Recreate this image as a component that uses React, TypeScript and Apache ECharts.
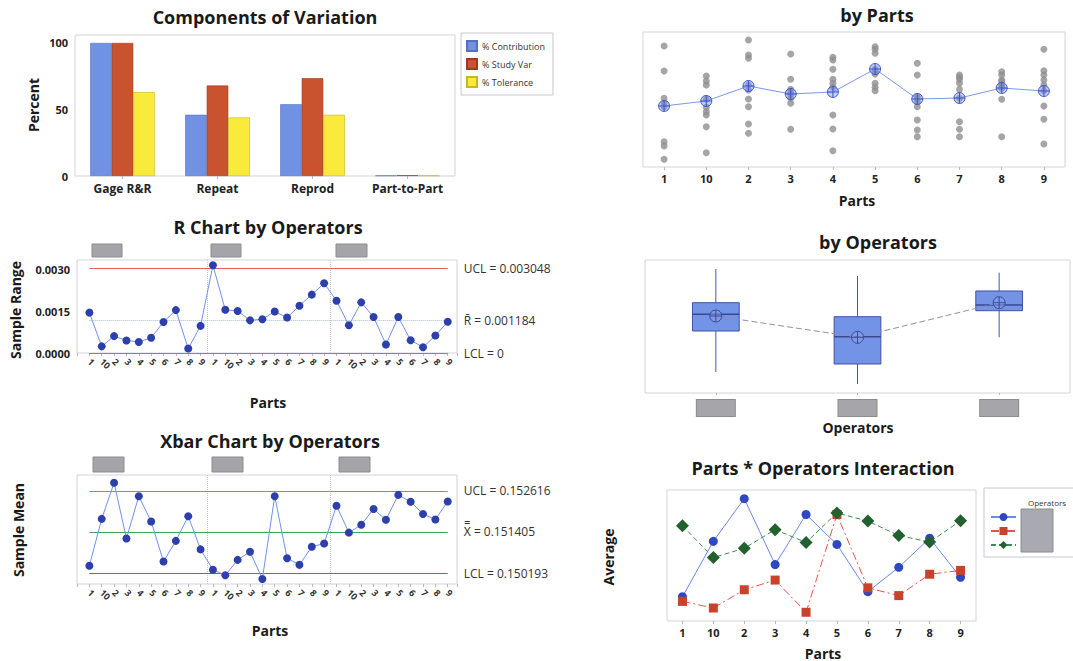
import React, { useEffect, useRef } from 'react';
import * as echarts from 'echarts';

const FONT = '"Open Sans", "Noto Sans", sans-serif';

// ---------- data ----------
const compCategories = ['Gage R&R', 'Repeat', 'Reprod', 'Part-to-Part'];
const pctContribution = [100, 46, 54, 0.4];
const pctStudyVar = [100, 68, 73.5, 0.6];
const pctTolerance = [63, 44, 46, 0.4];

const partOrder = ['1', '10', '2', '3', '4', '5', '6', '7', '8', '9'];
const operators = ['Operator 1', 'Operator 2', 'Operator 3'];

const rOp1 = [0.00146, 0.00024, 0.00061, 0.00045, 0.0004, 0.00055, 0.00112, 0.00155, 0.00016, 0.00098];
const rOp2 = [0.00317, 0.00156, 0.00152, 0.00118, 0.00122, 0.0015, 0.00128, 0.00171, 0.00211, 0.00252];
const rOp3 = [0.00189, 0.001, 0.00183, 0.0013, 0.00031, 0.0013, 0.00046, 0.00021, 0.00063, 0.00113];
const rLimits = { ucl: 0.003048, center: 0.001184, lcl: 0 };

const xbarOp1 = [0.150406, 0.151793, 0.152859, 0.151211, 0.152462, 0.151715, 0.150532, 0.151143, 0.15187, 0.150891];
const xbarOp2 = [0.15029, 0.150125, 0.150581, 0.150823, 0.150018, 0.152462, 0.150629, 0.150435, 0.150969, 0.151065];
const xbarOp3 = [0.152181, 0.151386, 0.151618, 0.152084, 0.151764, 0.152501, 0.152297, 0.151938, 0.151774, 0.152307];
const xbarLimits = { ucl: 0.152616, center: 0.151405, lcl: 0.150193 };

const dotsByPart = [
  [0.153071, 0.152179, 0.151204, 0.151025, 0.150904, 0.149654, 0.1495, 0.149025],
  [0.152, 0.151821, 0.151679, 0.151168, 0.150882, 0.150725, 0.150607, 0.150189, 0.149261],
  [0.153286, 0.15275, 0.152632, 0.151679, 0.1515, 0.151179, 0.150904, 0.150286, 0.149954],
  [0.152786, 0.151882, 0.151525, 0.151404, 0.151346, 0.151204, 0.151025, 0.150096],
  [0.152667, 0.152571, 0.152239, 0.151882, 0.151739, 0.151596, 0.150607, 0.150107, 0.149332],
  [0.153046, 0.152954, 0.152811, 0.152239, 0.152154, 0.152071, 0.151739, 0.151596, 0.151475],
  [0.152454, 0.152036, 0.151261, 0.151204, 0.151082, 0.150904, 0.150429, 0.150071, 0.149832],
  [0.152036, 0.151954, 0.151882, 0.151739, 0.151525, 0.151204, 0.150368, 0.150096, 0.149832],
  [0.152154, 0.152036, 0.151857, 0.151796, 0.151679, 0.151618, 0.151561, 0.151168, 0.149832],
  [0.152954, 0.152189, 0.152036, 0.151857, 0.151679, 0.151475, 0.150929, 0.150454, 0.149571],
];
const partMeans = [0.150929, 0.151107, 0.151643, 0.151357, 0.151429, 0.15225, 0.151179, 0.151214, 0.151571, 0.151464];

// [low whisker, Q1, median, Q3, high whisker]
const opBox1 = [0.149541, 0.150988, 0.151578, 0.151987, 0.153176];
const opBox2 = [0.149118, 0.149824, 0.150787, 0.151493, 0.152929];
const opBox3 = [0.150766, 0.151705, 0.151906, 0.1524, 0.153046];
const opMeans = [0.151518, 0.150766, 0.151987];

// ---------- helpers ----------
const MEAN_SYMBOL = 'path://M10,0A10,10,0,1,1,9.99,0ZM10,0L10,20M0,10L20,10';

const partLabel = (v: number) => {
  const i = Math.round(v);
  if (Math.abs(v - i) > 1e-6 || i < 1 || i > 30) return '';
  return partOrder[(i - 1) % 10];
};
const stepLabel = (step: number, digits: number) => (v: number) => {
  const k = Math.round(v / step);
  return Math.abs(v - k * step) < step * 1e-6 ? v.toFixed(digits) : '';
};

function txt(x: number, y: number, text: string, font: string, rotation = 0, align = 'center', fill = '#1a1a1a') {
  return {
    type: 'text', x, y, rotation, silent: true,
    style: { text, font, fill, textAlign: align, align, textVerticalAlign: 'middle', verticalAlign: 'middle' },
  };
}
function box(x: number, y: number, w: number, h: number, fill = '#a5a5a9', stroke = '#8c8c90') {
  return { type: 'rect', silent: true, shape: { x, y, width: w, height: h }, style: { fill, stroke, lineWidth: 1 } };
}

const titleFont = `bold 18px ${FONT}`;
const nameFont = `bold 14px ${FONT}`;
const borderColor = '#d2d4dc';

const hiddenY = (gi: number, min: number, max: number) => ({
  gridIndex: gi, type: 'value', min, max, scale: true,
  axisLine: { show: false }, axisTick: { show: false }, axisLabel: { show: false }, splitLine: { show: false },
});

const seqAxis = (gi: number) => ({
  gridIndex: gi, type: 'value', min: 0, max: 30.75, interval: 1,
  axisLine: { show: false }, splitLine: { show: false },
  axisTick: { show: true, length: 3, lineStyle: { color: '#b8b8c0' } },
  axisLabel: { formatter: partLabel, rotate: -45, fontSize: 9, fontWeight: 'bold', color: '#333', margin: 7, fontFamily: FONT },
});

const catAxis = (gi: number, data: string[], extra: any = {}) => ({
  gridIndex: gi, type: 'category', data,
  axisLine: { show: false }, splitLine: { show: false },
  axisTick: { show: true, alignWithLabel: true, length: 3, lineStyle: { color: '#b8b8c0' } },
  axisLabel: { fontFamily: FONT, fontWeight: 'bold', fontSize: 11, color: '#222', margin: 6 },
  ...extra,
});

function limitLine(v: number, color: string, label: string, type: any = 'solid') {
  const ls = { color, width: 1, type };
  const lb = { show: true, position: 'end', formatter: label, distance: 16, color: '#333', fontSize: 12, fontFamily: FONT };
  return [
    { coord: [1, v], lineStyle: ls, label: lb },
    { coord: [30, v], lineStyle: ls, label: lb },
  ];
}
const sepLine = (x: number) => ({ xAxis: x, lineStyle: { color: '#c4c8d8', type: 'dotted', width: 1 }, label: { show: false } });

const seqData = (arrs: number[][]) => arrs.flat().map((v, i) => [i + 1, v]);

// ---------- option ----------
const option: any = {
  animation: false,
  backgroundColor: '#ffffff',
  textStyle: { fontFamily: FONT },
  grid: [
    { left: 75, top: 35, width: 380, height: 141, show: true, borderColor, borderWidth: 1 },
    { left: 77, top: 260, width: 380, height: 93, show: true, borderColor, borderWidth: 1 },
    { left: 77, top: 475, width: 380, height: 109, show: true, borderColor, borderWidth: 1 },
    { left: 643, top: 32, width: 422, height: 135, show: true, borderColor, borderWidth: 1 },
    { left: 645, top: 260, width: 425, height: 133, show: true, borderColor, borderWidth: 1 },
    { left: 667, top: 490, width: 309, height: 131, show: true, borderColor, borderWidth: 1 },
  ],
  xAxis: [
    catAxis(0, compCategories, { axisLabel: { fontFamily: FONT, fontWeight: 'bold', fontSize: 12, color: '#222', margin: 6 } }),
    seqAxis(1),
    seqAxis(2),
    catAxis(3, partOrder),
    catAxis(4, operators, {
      axisTick: { show: true, alignWithLabel: true, length: 2, lineStyle: { color: '#b8b8c0' } },
      axisLabel: {
        margin: 7,
        formatter: () => '{b| }',
        rich: { b: { width: 38, height: 16, backgroundColor: '#a6a6aa', borderColor: '#8c8c90', borderWidth: 1 } },
      },
    }),
    catAxis(5, partOrder),
  ],
  yAxis: [
    {
      gridIndex: 0, type: 'value', min: 0, max: 106, interval: 50,
      axisLine: { show: false }, axisTick: { show: false }, splitLine: { show: false },
      axisLabel: { formatter: stepLabel(50, 0), fontFamily: FONT, fontWeight: 'bold', fontSize: 11, color: '#222', margin: 7 },
    },
    {
      gridIndex: 1, type: 'value', min: 0, max: 0.00336, interval: 0.0015,
      axisLine: { show: false }, axisTick: { show: false }, splitLine: { show: false },
      axisLabel: { formatter: stepLabel(0.0015, 4), fontFamily: FONT, fontWeight: 'bold', fontSize: 11, color: '#222', margin: 7 },
    },
    hiddenY(2, 0.149869, 0.153088),
    hiddenY(3, 0.14875, 0.153571),
    hiddenY(4, 0.1488, 0.153494),
    hiddenY(5, 0.1498, 0.153075),
  ],
  legend: [
    {
      data: ['% Contribution', '% Study Var', '% Tolerance'],
      orient: 'vertical', left: 461, top: 33, itemWidth: 10, itemHeight: 10, itemGap: 6,
      padding: [7, 8, 7, 5], borderColor: '#c8c8d0', borderWidth: 1, icon: 'rect',
      textStyle: { fontSize: 9, color: '#333', fontFamily: FONT }, selectedMode: false,
    },
    {
      data: operators,
      orient: 'vertical', left: 990, top: 512, itemWidth: 25, itemHeight: 10, itemGap: 5, padding: 0,
      formatter: () => '', selectedMode: false,
    },
  ],
  series: [
    {
      name: '% Contribution', type: 'bar', xAxisIndex: 0, yAxisIndex: 0, data: pctContribution,
      barGap: '0%', barCategoryGap: '32%',
      itemStyle: { color: '#7191e3', borderColor: '#5670bf', borderWidth: 0.6 },
    },
    {
      name: '% Study Var', type: 'bar', xAxisIndex: 0, yAxisIndex: 0, data: pctStudyVar,
      barGap: '0%', barCategoryGap: '32%',
      itemStyle: { color: '#c8532e', borderColor: '#9a3a1e', borderWidth: 0.6 },
    },
    {
      name: '% Tolerance', type: 'bar', xAxisIndex: 0, yAxisIndex: 0, data: pctTolerance,
      barGap: '0%', barCategoryGap: '32%',
      itemStyle: { color: '#f9ea3c', borderColor: '#c8b820', borderWidth: 0.6 },
    },
    {
      name: 'R', type: 'line', xAxisIndex: 1, yAxisIndex: 1, data: seqData([rOp1, rOp2, rOp3]),
      symbol: 'circle', symbolSize: 8, itemStyle: { color: '#2c3fab' }, lineStyle: { color: '#6f92ee', width: 1 },
      z: 5,
      markLine: {
        silent: true, symbol: ['none', 'none'], animation: false,
        data: [
          sepLine(10.5), sepLine(20.5),
          limitLine(rLimits.ucl, '#e2605a', 'UCL = 0.003048'),
          limitLine(rLimits.center, '#a6bccd', 'R\u0304 = 0.001184', 'dotted'),
          limitLine(rLimits.lcl, '#e2605a', 'LCL = 0'),
        ],
      },
    },
    {
      name: 'Xbar', type: 'line', xAxisIndex: 2, yAxisIndex: 2, data: seqData([xbarOp1, xbarOp2, xbarOp3]),
      symbol: 'circle', symbolSize: 8, itemStyle: { color: '#2c3fab' }, lineStyle: { color: '#6f92ee', width: 1 },
      z: 5,
      markLine: {
        silent: true, symbol: ['none', 'none'], animation: false,
        data: [
          sepLine(10.5), sepLine(20.5),
          limitLine(xbarLimits.ucl, '#e2667a', 'UCL = 0.152616'),
          limitLine(xbarLimits.center, '#3ea35e', 'X\u033F = 0.151405'),
          limitLine(xbarLimits.lcl, '#d8443a', 'LCL = 0.150193'),
        ],
      },
    },
    {
      name: 'Measurements', type: 'scatter', xAxisIndex: 3, yAxisIndex: 3,
      data: dotsByPart.flatMap((vals, i) => vals.map((v) => [i, v])),
      symbolSize: 7, itemStyle: { color: '#8f8f8f' }, z: 2,
    },
    {
      name: 'Part Mean', type: 'line', xAxisIndex: 3, yAxisIndex: 3, data: partMeans,
      symbol: MEAN_SYMBOL, symbolSize: 11, z: 4,
      itemStyle: { color: 'rgba(120,145,235,0.45)', borderColor: '#3d55c8', borderWidth: 1 },
      lineStyle: { color: '#7b98ea', width: 1 },
    },
    {
      name: 'Operator Box', type: 'custom', xAxisIndex: 4, yAxisIndex: 4,
      data: [opBox1, opBox2, opBox3].map((b, i) => [i, ...b]),
      encode: { x: 0, y: [1, 2, 3, 4, 5] },
      z: 2,
      renderItem: (params: any, api: any) => {
        const c = api.value(0);
        const lo = api.coord([c, api.value(1)]);
        const q1 = api.coord([c, api.value(2)]);
        const med = api.coord([c, api.value(3)]);
        const q3 = api.coord([c, api.value(4)]);
        const hi = api.coord([c, api.value(5)]);
        const w = api.size([1, 0])[0] * 0.33;
        return {
          type: 'group',
          children: [
            { type: 'line', shape: { x1: lo[0], y1: lo[1], x2: hi[0], y2: hi[1] }, style: { stroke: '#4b5aa0', lineWidth: 1 } },
            { type: 'rect', shape: { x: q3[0] - w / 2, y: q3[1], width: w, height: q1[1] - q3[1] }, style: { fill: '#7393e6', stroke: '#3f52a0', lineWidth: 1 } },
            { type: 'line', shape: { x1: med[0] - w / 2, y1: med[1], x2: med[0] + w / 2, y2: med[1] }, style: { stroke: '#3a4890', lineWidth: 1.5 } },
          ],
        };
      },
    },
    {
      name: 'Operator Mean', type: 'line', xAxisIndex: 4, yAxisIndex: 4, data: opMeans,
      symbol: MEAN_SYMBOL, symbolSize: 12, z: 4,
      itemStyle: { color: 'rgba(140,160,235,0.5)', borderColor: '#3a4a98', borderWidth: 1 },
      lineStyle: { color: '#8a92ae', width: 1, type: [6, 3] },
    },
    {
      name: operators[0], type: 'line', xAxisIndex: 5, yAxisIndex: 5, data: xbarOp1,
      symbol: 'circle', symbolSize: 9, itemStyle: { color: '#2f47c0' }, lineStyle: { color: '#6a88ee', width: 1 }, z: 4,
    },
    {
      name: operators[1], type: 'line', xAxisIndex: 5, yAxisIndex: 5, data: xbarOp2,
      symbol: 'rect', symbolSize: 9, itemStyle: { color: '#c8432c' }, lineStyle: { color: '#e2554a', width: 1, type: [8, 3, 2, 3] }, z: 4,
    },
    {
      name: operators[2], type: 'line', xAxisIndex: 5, yAxisIndex: 5, data: xbarOp3,
      symbol: 'diamond', symbolSize: 13, itemStyle: { color: '#22602f' }, lineStyle: { color: '#3d8c52', width: 1, type: [5, 3] }, z: 4,
    },
  ],
  graphic: [
    // titles
    txt(265, 17, 'Components of Variation', titleFont),
    txt(268, 227, 'R Chart by Operators', titleFont),
    txt(270, 441, 'Xbar Chart by Operators', titleFont),
    txt(877, 15, 'by Parts', titleFont),
    txt(878, 242, 'by Operators', titleFont),
    txt(823, 468, 'Parts * Operators Interaction', titleFont),
    // axis names
    txt(33, 105, 'Percent', nameFont, Math.PI / 2),
    txt(15, 310, 'Sample Range', nameFont, Math.PI / 2),
    txt(18, 530, 'Sample Mean', nameFont, Math.PI / 2),
    txt(608, 557, 'Average', nameFont, Math.PI / 2),
    txt(268, 402, 'Parts', nameFont),
    txt(270, 630, 'Parts', nameFont),
    txt(857, 200, 'Parts', nameFont),
    txt(858, 427, 'Operators', nameFont),
    txt(823, 653, 'Parts', nameFont),
    // operator label boxes (names obscured)
    box(92, 244, 30, 13), box(211, 244, 30, 13), box(336, 244, 31, 13),
    box(93, 457, 31, 15), box(212, 457, 31, 15), box(339, 457, 31, 15),
    // interaction legend frame
    { type: 'rect', silent: true, shape: { x: 984, y: 488, width: 100, height: 69 }, style: { fill: 'none', stroke: '#c8c8d0', lineWidth: 1 } },
    txt(1047, 502, 'Operators', `8px ${FONT}`, 0, 'center', '#333'),
    box(1021, 509, 32, 43, '#a9a9b1', '#8c8c94'),
  ],
};

export default function App() {
  const ref = useRef<HTMLDivElement>(null);
  useEffect(() => {
    document.body.style.margin = '0';
    const chart = echarts.init(ref.current as HTMLDivElement, null, { renderer: 'svg' });
    chart.setOption(option);
    return () => chart.dispose();
  }, []);
  return <div ref={ref} style={{ width: 1073, height: 661, background: '#fff' }} />;
}
